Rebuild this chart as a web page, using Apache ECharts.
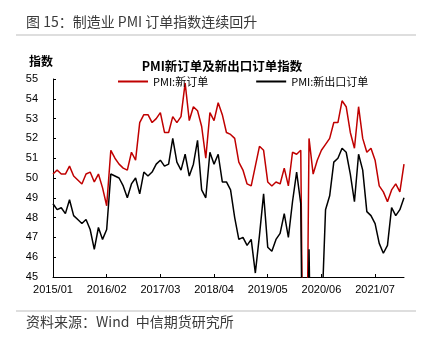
<!DOCTYPE html>
<html>
<head>
<meta charset="utf-8">
<script src="https://cdn.jsdelivr.net/npm/echarts@6/dist/echarts.min.js"></script>
<style>
html,body{margin:0;padding:0;background:#fff;}
#chart{width:423px;height:337px;}
</style>
</head>
<body>
<div id="chart"></div>
<script>
// Monthly categories 2015/01 .. 2022/02
var startYear = 2015, startMonth = 1, monthCount = 86;
var categories = [];
for (var k = 0; k < monthCount; k++) {
  var m = startMonth - 1 + k;
  var yy = startYear + Math.floor(m / 12);
  var mm = (m % 12) + 1;
  categories.push(yy + '/' + (mm < 10 ? '0' + mm : mm));
}

var seriesNames = ['PMI:新订单', 'PMI:新出口订单'];

var newOrders = [
  50.2, 50.4, 50.2, 50.2, 50.6, 50.1, 49.9, 49.7, 50.2, 50.3, 49.8, 50.2,
  49.5, 48.6, 51.4, 51.0, 50.7, 50.5, 50.4, 51.3, 50.9, 52.8, 53.2, 53.2,
  52.8, 53.0, 53.3, 52.3, 52.3, 53.1, 52.8, 53.1, 54.8, 52.9, 53.6, 53.4,
  52.6, 51.0, 53.3, 52.9, 53.8, 53.2, 52.3, 52.2, 52.0, 50.8, 50.4, 49.7,
  49.6, 50.6, 51.6, 51.4, 49.8, 49.6, 49.8, 49.7, 50.5, 49.6, 51.3, 51.2,
  51.4, 29.3, 52.0, 50.2, 50.9, 51.4, 51.7, 52.0, 52.8, 52.8, 53.9, 53.6,
  52.3, 51.5, 53.6, 52.0, 51.3, 51.5, 50.9, 49.6, 49.3, 48.8, 49.4, 49.7,
  49.3, 50.7
];

var newExportOrders = [
  48.7, 48.4, 48.5, 48.2, 48.9, 48.1, 47.9, 47.7, 47.9, 47.4, 46.4, 47.5,
  46.9, 47.4, 50.2, 50.1, 50.0, 49.6, 49.0, 49.7, 50.0, 49.2, 50.3, 50.1,
  50.3, 50.7, 50.9, 50.6, 50.7, 52.0, 50.8, 50.4, 51.2, 50.1, 50.7, 51.9,
  49.4, 49.0, 51.3, 50.7, 51.2, 49.8, 49.8, 49.4, 48.0, 46.9, 47.0, 46.6,
  46.9, 45.2, 47.1, 49.2, 46.5, 46.3, 46.9, 47.2, 48.2, 47.0, 48.8, 50.3,
  48.7, 28.7, 46.4, 33.5, 35.3, 42.6, 48.4, 49.1, 50.8, 51.0, 51.5, 51.3,
  50.2, 48.8, 51.2, 50.4, 48.3, 48.1, 47.7, 46.7, 46.2, 46.6, 48.5, 48.1,
  48.4, 49.0
];

var yMin = 45, yMax = 55, yStep = 1;
var labelEvery = 13;

var chart = echarts.init(document.getElementById('chart'), null, {renderer: 'canvas'});
var cjk = '"Noto Sans CJK SC", "Noto Sans", sans-serif';
var latin = '"Liberation Sans", Arial, sans-serif';

chart.setOption({
  backgroundColor: '#ffffff',
  animation: false,
  title: {
    text: 'PMI新订单及新出口订单指数',
    left: 217,
    textAlign: 'center',
    top: 55,
    textStyle: {fontSize: 12.5, fontWeight: 'bold', color: '#000', fontFamily: cjk}
  },
  graphic: [
    {type: 'text', left: 26, top: 15, style: {text: '图 15：制造业 PMI 订单指数连续回升', font: '14px ' + cjk, fill: '#3a3a3a'}},
    {type: 'rect', shape: {x: 16, y: 34, width: 400, height: 2}, style: {fill: '#dedede'}},
    {type: 'rect', shape: {x: 16, y: 310, width: 400, height: 2}, style: {fill: '#dedede'}},
    {type: 'text', left: 26, top: 315, style: {text: '资料来源：Wind  中信期货研究所', font: '14px ' + cjk, fill: '#3a3a3a'}}
  ],
  legend: {
    top: 71,
    left: 113,
    icon: 'rect',
    itemWidth: 30,
    itemHeight: 2,
    itemGap: 48,
    textStyle: {fontSize: 11, color: '#000', fontFamily: cjk},
    data: seriesNames
  },
  grid: {left: 53, right: 19, top: 79, bottom: 60, containLabel: false},
  xAxis: {
    type: 'category',
    data: categories,
    boundaryGap: false,
    axisLine: {show: true, lineStyle: {color: '#000', width: 1}},
    axisTick: {show: true, inside: true, length: 3, interval: labelEvery - 1, lineStyle: {color: '#000'}},
    axisLabel: {interval: labelEvery - 1, fontSize: 11, color: '#000', margin: 7, fontFamily: latin},
    splitLine: {show: false}
  },
  yAxis: {
    type: 'value',
    min: yMin,
    max: yMax,
    interval: yStep,
    name: '指数',
    nameLocation: 'end',
    nameGap: 12,
    nameTextStyle: {fontSize: 12, fontWeight: 'bold', color: '#000', align: 'right', fontFamily: cjk},
    axisLine: {show: true, lineStyle: {color: '#000', width: 1}},
    axisTick: {show: true, inside: true, length: 3, lineStyle: {color: '#000'}},
    axisLabel: {fontSize: 11, color: '#000', margin: 15, fontFamily: latin},
    splitLine: {show: false}
  },
  series: [
    {
      name: seriesNames[0],
      type: 'line',
      data: newOrders,
      symbol: 'none',
      clip: true,
      lineStyle: {color: '#C00000', width: 1.5},
      itemStyle: {color: '#C00000'}
    },
    {
      name: seriesNames[1],
      type: 'line',
      data: newExportOrders,
      symbol: 'none',
      clip: true,
      lineStyle: {color: '#000000', width: 1.5},
      itemStyle: {color: '#000000'}
    }
  ]
});
</script>
</body>
</html>
